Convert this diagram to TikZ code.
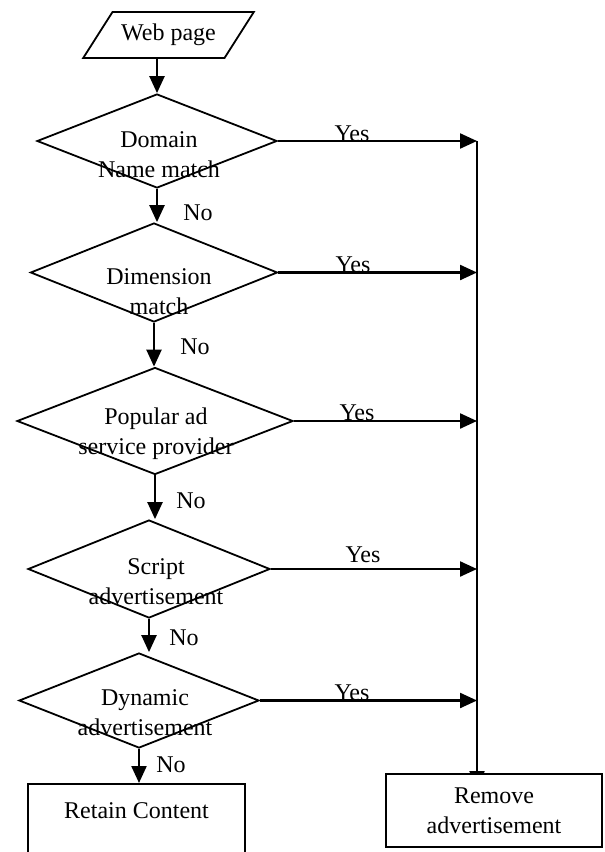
\documentclass[tikz,border=0pt]{standalone}
\usepackage{fontspec}
\setmainfont{Liberation Serif}
\usetikzlibrary{shapes.geometric,arrows.meta}

\begin{document}
\begin{tikzpicture}[x=1pt,y=-1pt,
    every node/.style={font=\fontsize{24}{30}\selectfont},
    test/.style={diamond,draw,line width=1.8pt,inner sep=0pt},
    dtext/.style={align=center,inner sep=0pt},
    box/.style={rectangle,draw,line width=1.8pt,fill=white},
    lbl/.style={inner sep=0pt},
    arr/.style={line width=2.3pt,-{Triangle[length=17pt,width=15pt]}}]

        \useasboundingbox (0,0) rectangle (605,852);

        \begin{scope}
            \node[trapezium,trapezium left angle=48,trapezium right angle=132,trapezium stretches=true,
                  draw,line width=1.8pt,minimum width=171,minimum height=46,inner sep=4pt] (W) at (168.5,35) {Web page};

            \node[test,minimum width=240,minimum height=94] (A) at (157,141) {};
            \node[test,minimum width=247,minimum height=99] (B) at (154,272.5) {};
            \node[test,minimum width=276,minimum height=107] (C) at (155,421) {};
            \node[test,minimum width=242,minimum height=98] (D) at (149,569) {};
            \node[test,minimum width=240,minimum height=95] (E) at (139,700.5) {};

            \node[dtext] (At) at (159,155) {Domain\\Name match};
            \node[dtext] (Bt) at (159,292) {Dimension\\match};
            \node[dtext] (Ct) at (156,434) {Popular ad\\service provider};
            \node[dtext] (Dt) at (156,582) {Script\\advertisement};
            \node[dtext] (Et) at (145,713) {Dynamic\\advertisement};

            \coordinate (S) at (477,141);
            \coordinate (T) at (477,788);

            \draw[arr] (A.north |- W.south) -- (A.north);
            \draw[arr] (A.south) -- (A.south |- B.north);
            \draw[arr] (B.south) -- (B.south |- C.north);
            \draw[arr] (C.south) -- (C.south |- D.north);
            \draw[arr] (D.south) -- (D.south |- E.north);

            \draw[arr] (A.east) -- (A.east -| S);
            \draw[arr] (B.east) -- (B.east -| S);
            \draw[arr] (C.east) -- (C.east -| S);
            \draw[arr] (D.east) -- (D.east -| S);
            \draw[arr] (E.east) -- (E.east -| S);
            \draw[arr] (S) -- (T);

            \node[box,anchor=north,minimum width=217,inner ysep=0pt,text height=35,text depth=62] (R) at (136.5,783) {Retain Content};
            \node[box,align=center,minimum width=216,minimum height=73] (X) at (494,810.5) {Remove\\advertisement};

            \draw[arr] (E.south) -- (E.south |- R.north);

            \node[lbl,anchor=base] (Y1) at (352,141) {Yes};
            \node[lbl,anchor=base] (Y2) at (353,272) {Yes};
            \node[lbl,anchor=base] (Y3) at (357,420) {Yes};
            \node[lbl,anchor=base] (Y4) at (363,562) {Yes};
            \node[lbl,anchor=base] (Y5) at (352,700) {Yes};

            \node[lbl] (N1) at (198,213) {No};
            \node[lbl] (N2) at (195,347) {No};
            \node[lbl] (N3) at (191,501) {No};
            \node[lbl] (N4) at (184,638) {No};
            \node[lbl] (N5) at (171,765) {No};

        \end{scope}
    \end{tikzpicture}
\end{document}
